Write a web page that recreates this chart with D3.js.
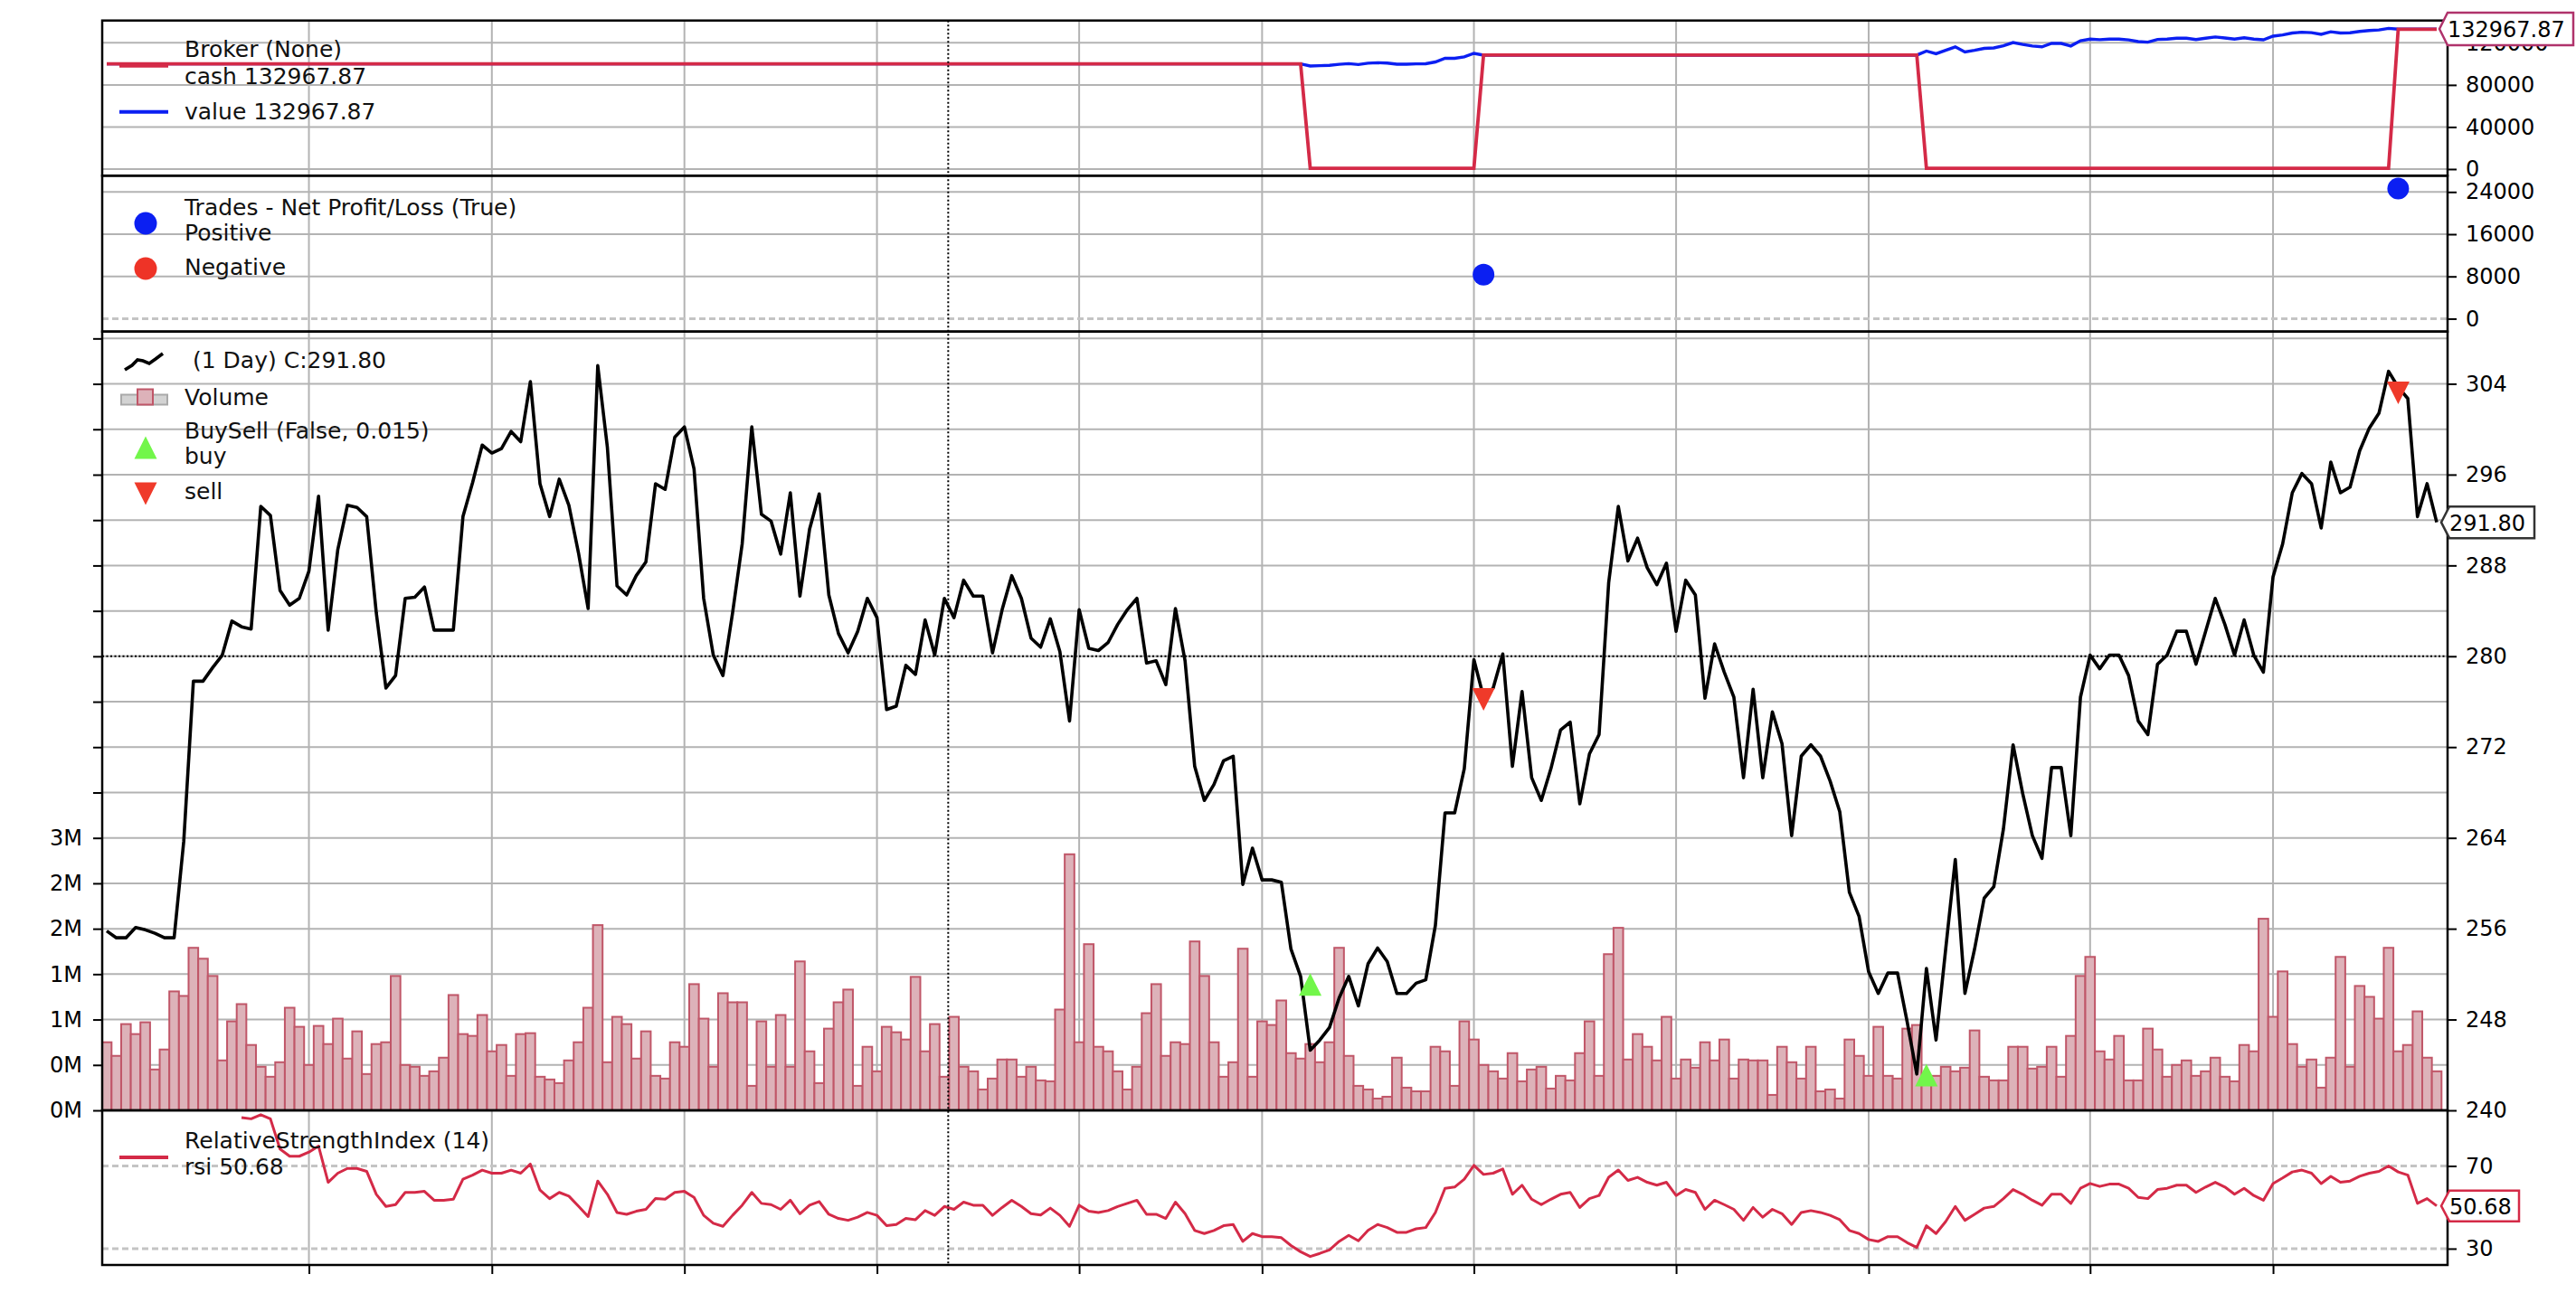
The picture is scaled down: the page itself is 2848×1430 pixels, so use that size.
<!DOCTYPE html>
<html>
<head>
<meta charset="utf-8">
<script src="https://cdn.jsdelivr.net/npm/d3@7"></script>
<style>
body{margin:0;background:#fff}
text{font-family:"DejaVu Sans",sans-serif}
</style>
</head>
<body>
<div id="chart"></div>
<script>

// daily closes, 243 bars
const closeVals=[
255.8,255.2,255.2,256.1,255.9,255.6,255.2,255.2,263.7,277.8,
277.8,279.0,280.1,283.1,282.6,282.4,293.2,292.4,285.8,284.5,
285.1,287.5,294.1,282.3,289.4,293.3,293.1,292.3,283.8,277.2,
278.3,285.1,285.2,286.1,282.3,282.3,282.3,292.3,295.3,298.6,
297.9,298.3,299.8,298.9,304.2,295.2,292.3,295.6,293.3,289.1,
284.2,305.6,298.4,286.2,285.4,287.1,288.3,295.2,294.7,299.3,
300.2,296.5,285.1,280.1,278.3,283.8,289.9,300.2,292.5,291.9,
289.0,294.4,285.3,291.2,294.3,285.4,282.0,280.3,282.2,285.1,
283.4,275.3,275.6,279.2,278.4,283.2,280.1,285.1,283.4,286.7,
285.3,285.3,280.3,284.1,287.1,285.1,281.6,280.8,283.3,280.4,
274.3,284.1,280.7,280.5,281.2,282.8,284.1,285.1,279.4,279.6,
277.5,284.2,279.6,270.3,267.3,268.7,270.8,271.2,259.9,263.1,
260.3,260.3,260.1,254.2,251.8,245.3,246.2,247.3,249.9,251.8,
249.2,252.9,254.3,253.1,250.3,250.3,251.2,251.5,256.3,266.2,
266.2,270.1,279.7,276.4,277.2,280.2,270.3,276.9,269.3,267.3,
270.1,273.5,274.2,267.0,271.4,273.1,286.5,293.2,288.4,290.4,
287.8,286.3,288.2,282.2,286.7,285.4,276.3,281.1,278.6,276.4,
269.3,277.1,269.3,275.1,272.3,264.2,271.2,272.2,271.2,269.0,
266.3,259.2,257.1,252.2,250.3,252.1,252.1,247.8,243.2,252.5,
246.2,254.2,262.1,250.3,254.2,258.7,259.7,264.8,272.2,267.9,
264.2,262.2,270.2,270.2,264.2,276.4,280.1,278.9,280.1,280.1,
278.3,274.3,273.1,279.3,280.1,282.2,282.2,279.3,282.2,285.1,
282.8,280.1,283.2,280.1,278.6,287.0,289.9,294.4,296.1,295.2,
291.3,297.1,294.4,294.9,298.1,300.1,301.4,305.1,303.7,302.7,
292.3,295.2,291.8
]

// volume in millions
const volumeVals=[
0.75,0.60,0.95,0.84,0.97,0.45,0.67,1.31,1.26,1.79,
1.67,1.48,0.55,0.98,1.17,0.72,0.48,0.37,0.53,1.13,
0.92,0.50,0.93,0.73,1.01,0.57,0.87,0.40,0.73,0.75,
1.48,0.50,0.48,0.38,0.43,0.58,1.27,0.84,0.82,1.05,
0.65,0.72,0.38,0.84,0.85,0.37,0.34,0.30,0.55,0.75,
1.13,2.04,0.53,1.03,0.95,0.57,0.87,0.38,0.35,0.75,
0.70,1.39,1.01,0.48,1.29,1.19,1.19,0.27,0.98,0.48,
1.05,0.48,1.64,0.65,0.30,0.90,1.19,1.33,0.27,0.70,
0.43,0.92,0.86,0.78,1.47,0.65,0.95,0.37,1.03,0.48,
0.43,0.23,0.35,0.56,0.56,0.37,0.48,0.33,0.32,1.11,
2.82,0.75,1.83,0.70,0.65,0.43,0.23,0.48,1.07,1.39,
0.60,0.75,0.73,1.86,1.48,0.75,0.37,0.53,1.78,0.37,
0.98,0.94,1.21,0.63,0.57,0.73,0.53,0.75,1.79,0.60,
0.27,0.23,0.13,0.15,0.58,0.25,0.21,0.21,0.70,0.65,
0.27,0.98,0.78,0.50,0.43,0.35,0.63,0.32,0.45,0.48,
0.24,0.38,0.33,0.63,0.98,0.38,1.72,2.01,0.56,0.84,
0.70,0.55,1.03,0.35,0.56,0.47,0.75,0.55,0.78,0.35,
0.56,0.55,0.55,0.17,0.70,0.53,0.35,0.70,0.21,0.23,
0.13,0.78,0.60,0.38,0.92,0.38,0.35,0.90,0.94,0.35,
0.38,0.48,0.43,0.47,0.88,0.37,0.33,0.33,0.70,0.70,
0.46,0.48,0.70,0.37,0.82,1.48,1.69,0.65,0.56,0.82,
0.33,0.33,0.90,0.67,0.37,0.50,0.55,0.38,0.43,0.58,
0.37,0.32,0.72,0.65,2.11,1.03,1.53,0.73,0.48,0.56,
0.25,0.58,1.69,0.48,1.37,1.25,1.01,1.79,0.65,0.72,
1.09,0.58,0.43
]

// RSI(14), first value on bar 14
const rsiStart=14
const rsiVals=[
93.4,92.8,94.8,92.8,78.2,74.7,
74.7,76.7,79.6,62.1,66.5,68.8,68.8,67.4,56.3,50.4,
51.3,57.2,57.2,57.7,53.4,53.4,53.9,63.6,65.6,68.0,
66.5,66.5,68.0,66.5,70.9,58.3,54.2,57.2,55.4,50.5,
45.5,62.7,56.3,47.5,46.6,48.1,49.0,54.2,53.9,57.2,
57.7,54.8,46.1,42.3,40.8,46.1,51.0,57.2,51.9,51.3,
49.0,53.4,46.9,51.0,52.8,46.6,44.6,43.7,45.2,47.5,
46.1,41.1,41.7,44.6,44.0,48.4,46.1,50.4,49.0,52.5,
51.0,51.0,46.1,49.9,53.4,50.4,46.9,46.3,49.6,46.1,
40.8,51.0,48.1,47.5,48.4,50.4,51.9,53.4,46.6,46.6,
44.6,52.5,46.9,38.8,37.3,38.8,41.1,41.7,33.5,37.3,
35.8,35.8,35.3,31.5,28.5,26.2,27.7,29.4,33.5,36.4,
33.8,38.8,41.7,40.2,37.9,37.9,39.6,40.2,47.5,59.2,
59.8,63.6,70.3,65.9,66.5,68.5,56.3,60.7,53.9,51.3,
53.9,56.3,57.2,49.9,54.2,55.7,64.5,68.0,63.0,64.5,
62.1,60.7,62.1,55.7,58.6,57.2,49.0,53.4,51.3,49.0,
43.7,49.9,45.2,49.0,46.9,41.7,47.5,48.4,47.5,46.1,
44.0,38.8,37.3,34.4,33.5,35.8,35.8,32.9,30.6,41.1,
37.3,43.1,50.4,43.7,46.6,49.6,50.4,54.2,58.6,56.3,
53.4,51.0,56.3,56.3,51.9,59.2,61.5,60.1,61.2,61.2,
59.2,54.8,54.2,58.6,59.2,60.7,60.7,57.2,59.8,62.1,
59.8,56.3,59.2,55.7,53.4,61.5,64.2,67.1,68.0,66.5,
61.5,65.0,62.1,62.7,65.0,66.5,67.4,70.0,67.1,65.6,
51.9,54.2,50.68
]

// broker cash: breakpoints (bar index, value)
const cashIdx=[0,124,125,142,143,188,189,237,238,242]
const cashVals=[100000,100000,800,800,108340,108340,800,800,132967.87,132967.87]

// broker value: flat parts plus the two open positions
const trade1Start=125
const trade1Value=[97970,98285,98670,99580,100245,99335,100630,101120,100700,99720,
99720,100035,100140,101820,105285,105285,106650,110010]
const trade2Start=189
const trade2Value=[112194,109611,112891,116130,111292,112891,114736,115146,117237,120271,
118508,116991,116171,119451,119451,116991,121993,123510,123018,123510,
123510,122772,121132,120640,123182,123510,124371,124371,123182,124371,
125560,124617,123510,124781,123510,122895,126339,127528,129373,130070,
129701,128102,130480,129373,129578,130890,131710,132243,133760]

const tradeIdx=[143,238]
const tradePnl=[8340,24627.87]

const buyIdx=[125,189]
const buyPrice=[251.1,243.1]
const sellIdx=[143,238]
const sellPrice=[276.2,303.2]

const monthIdx=[21,40,60,80,101,120,142,163,183,206,225]

const brokerTicks=[0,40000,80000,120000]
const tradeTicks=[0,8000,16000,24000]
const priceTicks=[240,248,256,264,272,280,288,296,304]
const rsiTicks=[30,70]
const volTicks=d3.range(0,8.51,0.5)

const cursorIdx=87.4
const cursorPrice=280

const N=closeVals.length

const W=2848,H=1430
const L=113,R=2706
const FONT=24
const LFONT=25

const svg=d3.select("#chart")
.append("svg")
.attr("width",W)
.attr("height",H)
.style("background","#fff")

const x=d3.scaleLinear().domain([0,N-1]).range([118,2694])

const pB={top:22.7,bottom:194.3}
const pT={top:194.3,bottom:366.7}
const pP={top:366.7,bottom:1228}
const pR={top:1228,bottom:1399}

const yB=d3.scaleLinear().domain([-6300,141200]).range([pB.bottom,pB.top])
const yT=d3.scaleLinear().domain([-2444,27080]).range([pT.bottom,pT.top])
const yP=d3.scaleLinear().domain([240,308.6]).range([pP.bottom,pP.top])
const yV=d3.scaleLinear().domain([0,8.576]).range([pP.bottom,pP.top])
const yR=d3.scaleLinear().domain([22.1,96.9]).range([pR.bottom,pR.top])

const GRID="#b3b3b3"
const CRIMSON="#d42a47"
const BLUE="#0b1ff2"

function clip(id,p){
svg.append("clipPath").attr("id",id)
.append("rect").attr("x",L).attr("y",p.top).attr("width",R-L).attr("height",p.bottom-p.top)
}
clip("cB",pB);clip("cT",pT);clip("cP",pP);clip("cR",pR)

function vgrid(p){
svg.append("g").selectAll("line").data(monthIdx).enter().append("line")
.attr("x1",d=>x(d)).attr("x2",d=>x(d))
.attr("y1",p.top).attr("y2",p.bottom)
.attr("stroke",GRID).attr("stroke-width",2)
}

function hgrid(vals,scale,dash){
svg.append("g").selectAll("line").data(vals).enter().append("line")
.attr("x1",L).attr("x2",R)
.attr("y1",d=>scale(d)).attr("y2",d=>scale(d))
.attr("stroke",dash?"#c4c4c4":GRID).attr("stroke-width",dash?3:2)
.attr("stroke-dasharray",dash?"7,4":null)
}

function styleAxis(g){
g.select(".domain").remove()
g.selectAll(".tick line").attr("stroke","#000").attr("stroke-width",2)
g.selectAll(".tick text").attr("fill","#000").style("font-size",FONT+"px").style("font-family","DejaVu Sans")
}

// ---------- broker panel
vgrid(pB)
hgrid(brokerTicks,yB,false)

const valuePts=[[0,100000],[124,100000]]
.concat(trade1Value.map((v,k)=>[trade1Start+k,v]))
.concat([[143,108340],[188,108340]])
.concat(trade2Value.map((v,k)=>[trade2Start+k,v]))
.concat([[238,132967.87],[242,132967.87]])

svg.append("path").datum(valuePts)
.attr("clip-path","url(#cB)")
.attr("fill","none").attr("stroke",BLUE).attr("stroke-width",3.4)
.attr("d",d3.line().x(d=>x(d[0])).y(d=>yB(d[1])))

svg.append("path").datum(cashIdx.map((d,k)=>[d,cashVals[k]]))
.attr("clip-path","url(#cB)")
.attr("fill","none").attr("stroke",CRIMSON).attr("stroke-width",3.8)
.attr("d",d3.line().x(d=>x(d[0])).y(d=>yB(d[1])))

svg.append("g").attr("transform","translate("+R+",0)")
.call(d3.axisRight(yB).tickValues(brokerTicks).tickSize(10).tickPadding(10).tickFormat(d3.format("d")))
.call(styleAxis)

// ---------- trades panel
vgrid(pT)
hgrid(tradeTicks.slice(1),yT,false)
hgrid([0],yT,true)

svg.append("g").attr("clip-path","url(#cT)")
.selectAll("circle").data(tradeIdx).enter().append("circle")
.attr("cx",d=>x(d)).attr("cy",(d,k)=>yT(tradePnl[k]))
.attr("r",12).attr("fill",BLUE)

svg.append("g").attr("transform","translate("+R+",0)")
.call(d3.axisRight(yT).tickValues(tradeTicks).tickSize(10).tickPadding(10).tickFormat(d3.format("d")))
.call(styleAxis)

// ---------- price panel
vgrid(pP)
hgrid(volTicks,yV,false)

const bw=x(1)-x(0)
svg.append("g").attr("clip-path","url(#cP)")
.selectAll("rect").data(volumeVals).enter().append("rect")
.attr("x",(d,i)=>x(i)-bw/2).attr("width",bw)
.attr("y",d=>yV(d)).attr("height",d=>yV(0)-yV(d))
.attr("fill","#ddb2b9").attr("stroke","#c05668").attr("stroke-width",2)

svg.append("path").datum(closeVals)
.attr("clip-path","url(#cP)")
.attr("fill","none").attr("stroke","#000").attr("stroke-width",3.6)
.attr("stroke-linejoin","round")
.attr("d",d3.line().x((d,i)=>x(i)).y(d=>yP(d)))

function tri(cx,cy,up){
const w=12.5,h=12.5
return up
?"M"+cx+","+(cy-h)+"L"+(cx+w)+","+(cy+h)+"L"+(cx-w)+","+(cy+h)+"Z"
:"M"+cx+","+(cy+h)+"L"+(cx+w)+","+(cy-h)+"L"+(cx-w)+","+(cy-h)+"Z"
}

svg.append("g").selectAll("path").data(buyIdx).enter().append("path")
.attr("d",(d,k)=>tri(x(d),yP(buyPrice[k]),true)).attr("fill","#72f64a")
svg.append("g").selectAll("path").data(sellIdx).enter().append("path")
.attr("d",(d,k)=>tri(x(d),yP(sellPrice[k]),false)).attr("fill","#ef3a2a")

svg.append("g").attr("transform","translate("+R+",0)")
.call(d3.axisRight(yP).tickValues(priceTicks).tickSize(10).tickPadding(10))
.call(styleAxis)

svg.append("g").attr("transform","translate("+L+",0)")
.call(d3.axisLeft(yV).tickValues(volTicks).tickSize(10).tickPadding(12)
.tickFormat(v=>v<=3?Math.trunc(v)+"M":""))
.call(styleAxis)

// ---------- rsi panel
vgrid(pR)
hgrid(rsiTicks,yR,true)

svg.append("path").datum(rsiVals)
.attr("clip-path","url(#cR)")
.attr("fill","none").attr("stroke",CRIMSON).attr("stroke-width",3)
.attr("stroke-linejoin","round")
.attr("d",d3.line().x((d,k)=>x(k+rsiStart)).y(d=>yR(d)))

svg.append("g").attr("transform","translate("+R+",0)")
.call(d3.axisRight(yR).tickValues(rsiTicks).tickSize(10).tickPadding(10))
.call(styleAxis)

svg.append("g").attr("transform","translate(0,"+pR.bottom+")")
.call(d3.axisBottom(x).tickValues(monthIdx).tickSize(10).tickFormat(""))
.call(styleAxis)

// ---------- cursor
svg.append("line")
.attr("x1",x(cursorIdx)).attr("x2",x(cursorIdx))
.attr("y1",pB.top).attr("y2",pR.bottom)
.attr("stroke","#000").attr("stroke-width",2).attr("stroke-dasharray","2,2.5")
svg.append("line")
.attr("x1",L).attr("x2",R)
.attr("y1",yP(cursorPrice)).attr("y2",yP(cursorPrice))
.attr("stroke","#000").attr("stroke-width",2).attr("stroke-dasharray","2,2.5")

// ---------- spines
;[pB,pT,pP,pR].forEach(p=>{
svg.append("rect").attr("x",L).attr("y",p.top)
.attr("width",R-L).attr("height",p.bottom-p.top)
.attr("fill","none").attr("stroke","#000").attr("stroke-width",2.5)
})

// ---------- legends
function txt(s,tx,ty){
svg.append("text").attr("x",tx).attr("y",ty)
.style("font-size",LFONT+"px").attr("fill","#111").text(s)
}
function legLine(y,color,w){
svg.append("line").attr("x1",132).attr("x2",186).attr("y1",y).attr("y2",y)
.attr("stroke",color).attr("stroke-width",w)
}

legLine(72.5,CRIMSON,4.5)
txt("Broker (None)",204,63)
txt("cash 132967.87",204,93)
legLine(123.8,BLUE,4)
txt("value 132967.87",204,132)

svg.append("circle").attr("cx",161).attr("cy",247).attr("r",12.5).attr("fill",BLUE)
txt("Trades - Net Profit/Loss (True)",204,238)
txt("Positive",204,266)
svg.append("circle").attr("cx",161).attr("cy",297).attr("r",12.5).attr("fill","#ee3327")
txt("Negative",204,304)

svg.append("path").attr("d","M138,409L146,404L152,398L158,399L165,402L172,397L180,391")
.attr("fill","none").attr("stroke","#000").attr("stroke-width",3.6)
txt("(1 Day) C:291.80",213,407)
svg.append("rect").attr("x",134).attr("y",436.5).attr("width",51).attr("height",11)
.attr("fill","#d3d3d3").attr("stroke","#a9a9a9").attr("stroke-width",2)
svg.append("rect").attr("x",152).attr("y",430.5).attr("width",17).attr("height",17)
.attr("fill","#ddb2b9").attr("stroke","#c05668").attr("stroke-width",2)
txt("Volume",204,448)
svg.append("path").attr("d",tri(161,495,true)).attr("fill","#72f64a")
txt("BuySell (False, 0.015)",204,485)
txt("buy",204,513)
svg.append("path").attr("d",tri(161,546,false)).attr("fill","#ef3a2a")
txt("sell",204,552)

legLine(1280,CRIMSON,4)
txt("RelativeStrengthIndex (14)",204,1270)
txt("rsi 50.68",204,1299)

// ---------- last value tags
function tag(xl,yt,w,h,s,color){
const d=9
svg.append("path")
.attr("d","M"+(xl+d)+","+yt+"H"+(xl+w)+"V"+(yt+h)+"H"+(xl+d)+"L"+xl+","+(yt+h/2)+"Z")
.attr("fill","#fff").attr("stroke",color).attr("stroke-width",2.5)
svg.append("text").attr("x",xl+9).attr("y",yt+h/2+9)
.style("font-size",FONT+"px").attr("fill","#000").text(s)
}
tag(2697,14,148,36,"132967.87","#b0336b")
tag(2699,yP(closeVals[N-1])-17.5,103,35,"291.80","#333")
tag(2699,yR(rsiVals[rsiVals.length-1])-17,86,34,"50.68",CRIMSON)

</script>
</body>
</html>
